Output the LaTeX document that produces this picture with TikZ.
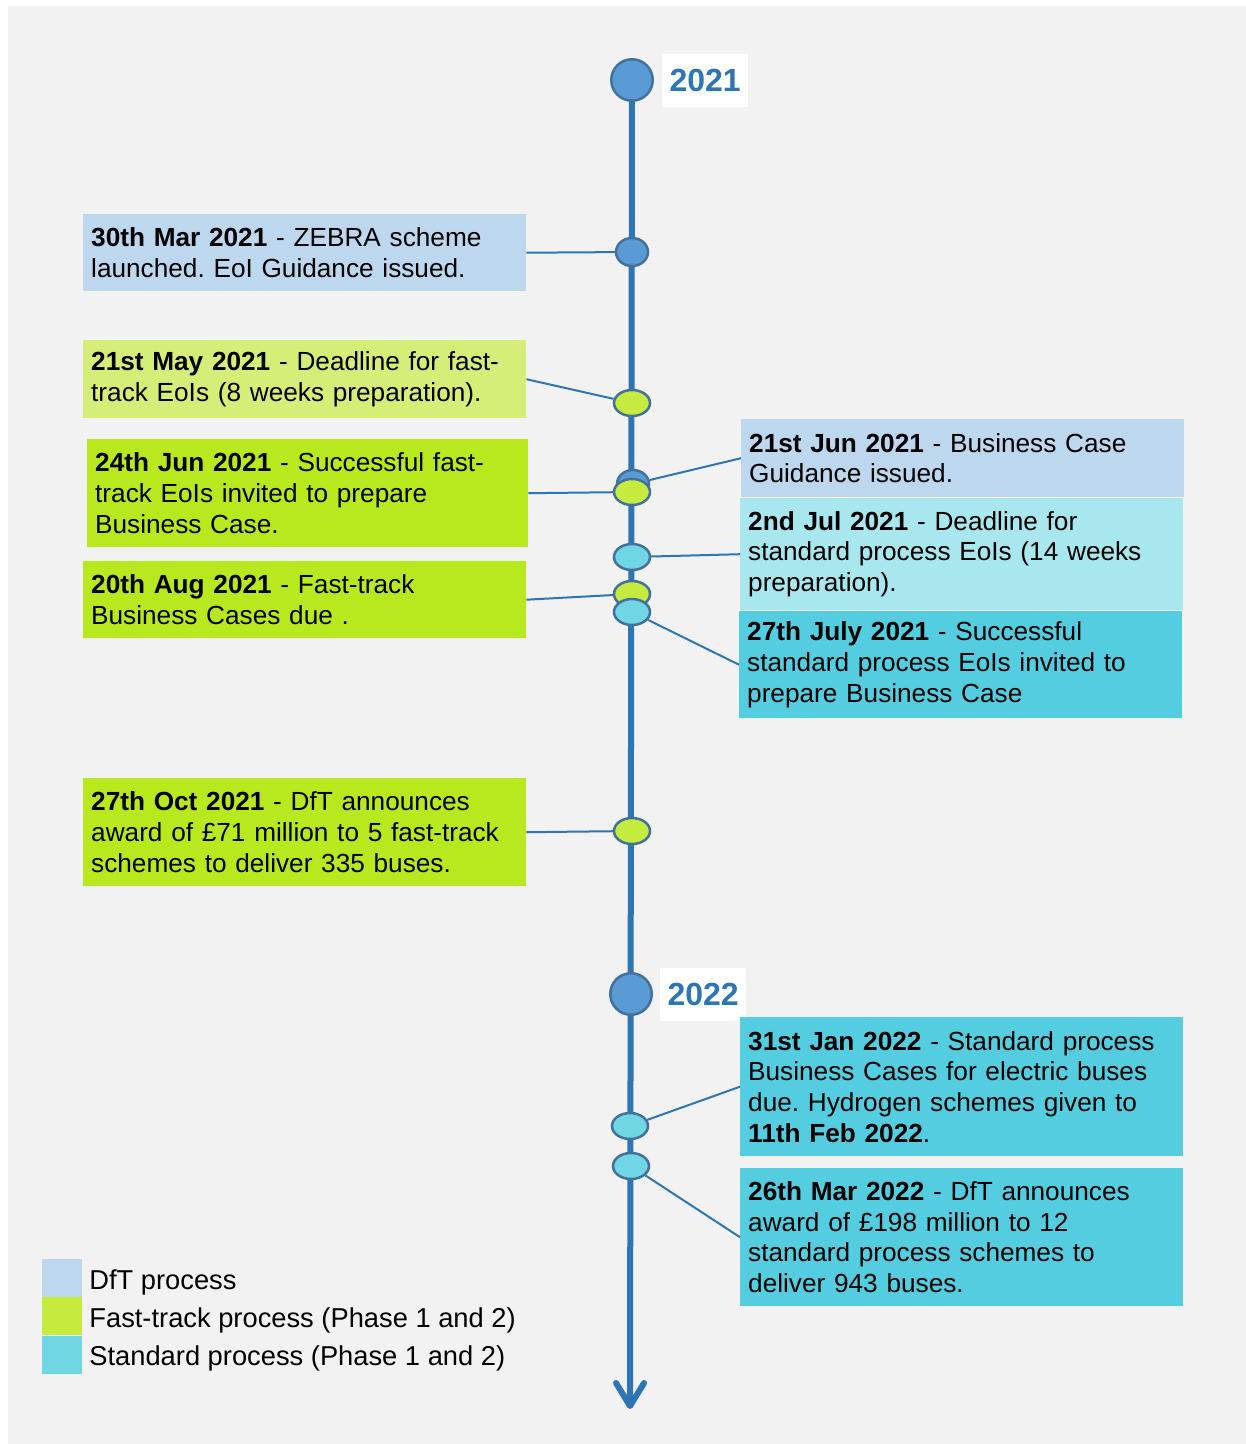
\documentclass[tikz,border=0pt]{standalone}
\usepackage{fontspec}
\setmainfont{Liberation Sans}
\usepackage{xcolor}
\usetikzlibrary{arrows.meta,positioning,calc,shapes.geometric,backgrounds}

\definecolor{panel}{HTML}{F2F2F2}
\definecolor{dftblue}{HTML}{BDD7EE}
\definecolor{fastlight}{HTML}{D4EE78}
\definecolor{fastgreen}{HTML}{B8E81E}
\definecolor{stdlight}{HTML}{A9E7EF}
\definecolor{stdcyan}{HTML}{53CDDF}
\definecolor{linkblue}{HTML}{2E75B6}
\definecolor{rimblue}{HTML}{41719C}
\definecolor{dotblue}{HTML}{5B9BD5}
\definecolor{dotgreen}{HTML}{C5EB3F}
\definecolor{dotcyan}{HTML}{70D6E4}

\frenchspacing

\begin{document}
\begin{tikzpicture}[x=1pt, y=-1pt,
        event/.style={anchor=north west, align=left, text width=427pt, inner xsep=8pt, inner ysep=0pt, font=\fontsize{26.2}{30.7}\selectfont},
        dot/.style={ellipse, draw=rimblue, line width=2.5pt, minimum width=36pt, minimum height=26pt, inner sep=0pt},
        yeardot/.style={circle, draw=rimblue, fill=dotblue, line width=2.5pt, minimum size=41.5pt, inner sep=0pt},
        year/.style={fill=white, minimum width=86pt, minimum height=53pt, inner sep=0pt, text=linkblue, font=\fontsize{32}{36}\selectfont\bfseries},
        key/.style={minimum width=40pt, minimum height=38pt, inner sep=0pt},
        keytext/.style={inner sep=0pt, font=\fontsize{27.3}{32}\selectfont},
        link/.style={linkblue, line width=2pt},
        line/.style={linkblue, line width=6pt, -{Straight Barb[round, length=23pt, width=28pt]}}
    ]
        \path[use as bounding box] (0,0) rectangle (1246,1444);

        % year markers
        \node[yeardot] (y2021) at (632,80) {};
        \node[year, right=8pt of y2021] (t2021) {2021};
        \node[yeardot] (y2022) at (631,994) {};
        \node[year, right=7pt of y2022] (t2022) {2022};
        \coordinate (tlend) at (630,1409);

        % events, left side
        \node[event, fill=dftblue, minimum height=77pt] (mar21) at (83,214) {\textbf{30th Mar 2021} - ZEBRA scheme\\launched. EoI Guidance issued.};
        \node[event, fill=fastlight, minimum height=78pt] (may21) at (83,340) {\textbf{21st May 2021} - Deadline for fast-\\track EoIs (8 weeks preparation).};
        \node[event, fill=fastgreen, minimum height=108pt, text width=425pt] (jun24) at (87,439) {\textbf{24th Jun 2021} - Successful fast-\\track EoIs invited to prepare\\Business Case.};
        \node[event, fill=fastgreen, minimum height=77pt] (aug21) at (83,561) {\textbf{20th Aug 2021} - Fast-track\\Business Cases due .};
        \node[event, fill=fastgreen, minimum height=108pt] (oct21) at (83,778) {\textbf{27th Oct 2021} - DfT announces\\award of £71 million to 5 fast-track\\schemes to deliver 335 buses.};

        % events, right side
        \node[event, fill=dftblue, minimum height=78pt] (jun21) at (741,419) {\textbf{21st Jun 2021} - Business Case\\Guidance issued.};
        \node[event, fill=stdlight, minimum height=112pt] (jul21) at (740,498) {\textbf{2nd Jul 2021} - Deadline for\\standard process EoIs (14 weeks\\preparation).};
        \node[event, fill=stdcyan, minimum height=107pt] (jul27) at (739,611) {\textbf{27th July 2021} - Successful\\standard process EoIs invited to\\prepare Business Case};
        \node[event, fill=stdcyan, minimum height=139pt] (jan22) at (740,1017) {\textbf{31st Jan 2022} - Standard process\\Business Cases for electric buses\\due. Hydrogen schemes given to\\\textbf{11th Feb 2022}.};
        \node[event, fill=stdcyan, minimum height=138pt] (mar22) at (740,1168) {\textbf{26th Mar 2022} - DfT announces\\award of £198 million to 12\\standard process schemes to\\deliver 943 buses.};

        % dots on the line
        \node[dot, fill=dotblue, minimum width=32pt, minimum height=28pt] (dmar21) at (632,252) {};
        \node[dot, fill=dotgreen] (dmay21) at (632,403) {};
        \node[dot, fill=dotblue, minimum width=32pt, minimum height=28pt] (djun21) at (633,484) {};
        \node[dot, fill=dotgreen] (djun24) at (632,492) {};
        \node[dot, fill=dotcyan] (djul21) at (632,557) {};
        \node[dot, fill=dotgreen] (daug21) at (632,594) {};
        \node[dot, fill=dotcyan] (djul27) at (632,612) {};
        \node[dot, fill=dotgreen] (doct21) at (632,831) {};
        \node[dot, fill=dotcyan] (djan22) at (630,1126) {};
        \node[dot, fill=dotcyan] (dmar22) at (631,1166) {};

        \draw[link] (mar21.east) -- (dmar21);
        \draw[link] (may21.east) -- (dmay21);
        \draw[link] (jun24.east) -- (djun24);
        \draw[link] (aug21.east) -- (daug21);
        \draw[link] (oct21.east) -- (doct21);
        \draw[link] (jun21.west) -- (djun21);
        \draw[link] (jul21.west) -- (djul21);
        \draw[link] (jul27.west) -- (djul27);
        \draw[link] (jan22.west) -- (djan22);
        \draw[link] (mar22.west) -- (dmar22);

        % legend
        \node[key, fill=dftblue] (kdft) at (62,1278) {};
        \node[key, fill=dotgreen, below=0pt of kdft] (kfast) {};
        \node[key, fill=dotcyan, below=0pt of kfast] (kstd) {};
        \node[keytext, right=7pt of kdft, yshift=-4pt] (ldft) {DfT process};
        \node[keytext, right=7pt of kfast, yshift=-4pt] (lfast) {Fast-track process (Phase 1 and 2)};
        \node[keytext, right=7pt of kstd, yshift=-4pt] (lstd) {Standard process (Phase 1 and 2)};

        \begin{scope}[on background layer]
            \fill[panel] (8,6) rectangle (1246,1444);
            \draw[line] (y2021) -- (tlend);
        \end{scope}
    \end{tikzpicture}
\end{document}
